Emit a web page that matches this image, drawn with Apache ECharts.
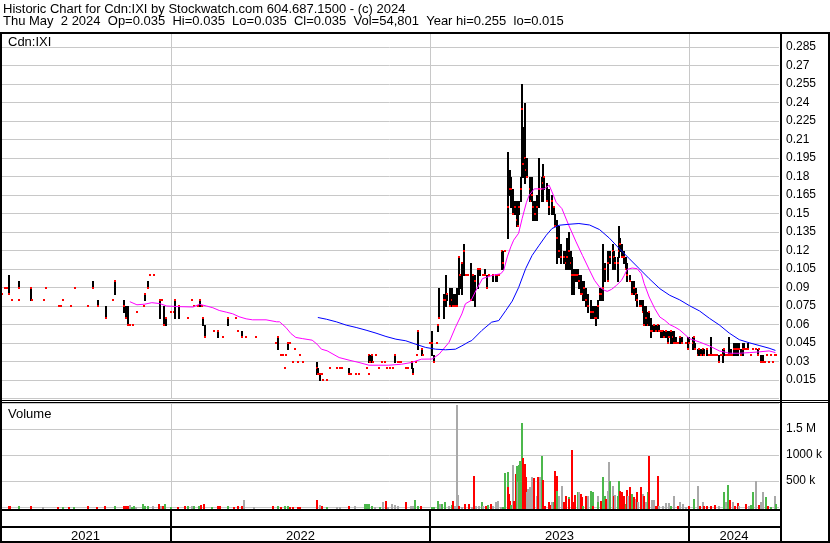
<!DOCTYPE html>
<html><head><meta charset="utf-8">
<script src="https://cdn.jsdelivr.net/npm/echarts@6.0.0/dist/echarts.min.js"></script>
<style>html,body{margin:0;padding:0;background:#fff;}#c{width:830px;height:543px;}</style>
</head><body><div id="c"></div>
<script>
// ---------------- DATA ----------------
const titleLine1 = 'Historic Chart for Cdn:IXI by Stockwatch.com 604.687.1500 - (c) 2024';
const titleLine2 = 'Thu May  2 2024  Op=0.035  Hi=0.035  Lo=0.035  Cl=0.035  Vol=54,801  Year hi=0.255  lo=0.015';
const symbolLabel = 'Cdn:IXI';
const volumeLabel = 'Volume';
const yearLabels = ['2021', '2022', '2023', '2024'];
const yearStarts = ['2021-05-05', '2022-01-01', '2023-01-01', '2024-01-01'];
const yearEnds = ['2022-01-01', '2023-01-01', '2024-01-01', '2024-05-07'];
const volumeTickLabels = ['500 k', '1000 k', '1.5 M'];

// [date, high, low, close]
const bars2021 = [
['2021-05-07',0.085,0.085,0.085],['2021-05-10',0.09,0.09,0.09],['2021-05-13',0.09,0.09,0.09],
['2021-05-16',0.10,0.085,0.085],['2021-05-20',0.08,0.08,0.08],['2021-05-30',0.08,0.08,0.08],
['2021-05-31',0.095,0.09,0.09],['2021-06-16',0.09,0.08,0.09],['2021-06-18',0.08,0.08,0.08],
['2021-07-05',0.08,0.08,0.08],['2021-07-08',0.09,0.09,0.09],['2021-07-26',0.075,0.075,0.075],
['2021-07-29',0.075,0.075,0.075],['2021-08-01',0.08,0.08,0.08],['2021-08-12',0.075,0.075,0.075],
['2021-08-18',0.09,0.09,0.09],['2021-09-05',0.075,0.075,0.075],['2021-09-11',0.095,0.09,0.09],
['2021-09-19',0.08,0.075,0.075],['2021-09-30',0.075,0.065,0.065],['2021-10-10',0.08,0.08,0.08],
['2021-10-13',0.095,0.085,0.095],['2021-10-26',0.08,0.07,0.075],['2021-10-28',0.075,0.065,0.065],
['2021-10-31',0.075,0.06,0.06],['2021-11-03',0.06,0.06,0.06],['2021-11-07',0.06,0.06,0.06],
['2021-11-13',0.07,0.07,0.07],['2021-11-23',0.075,0.075,0.075],['2021-11-24',0.085,0.08,0.085],
['2021-11-28',0.095,0.09,0.09],['2021-12-01',0.10,0.10,0.10],['2021-12-07',0.10,0.10,0.10],
['2021-12-15',0.08,0.065,0.08],['2021-12-18',0.08,0.08,0.08],['2021-12-21',0.075,0.06,0.06],
['2021-12-24',0.065,0.06,0.065],['2021-12-30',0.07,0.07,0.07]
];
const bars2022 = [
['2022-01-04',0.07,0.07,0.07],['2022-01-05',0.08,0.065,0.08],['2022-01-11',0.075,0.065,0.075],
['2022-01-23',0.065,0.065,0.065],['2022-01-29',0.08,0.08,0.08],['2022-02-01',0.075,0.075,0.075],
['2022-02-07',0.075,0.075,0.075],['2022-02-09',0.08,0.075,0.08],['2022-02-12',0.075,0.075,0.075],
['2022-02-14',0.065,0.06,0.065],['2022-02-16',0.06,0.05,0.05],['2022-03-01',0.055,0.055,0.055],
['2022-03-07',0.055,0.05,0.055],['2022-03-14',0.05,0.05,0.05],['2022-03-21',0.065,0.06,0.065],
['2022-04-01',0.065,0.065,0.065],['2022-04-04',0.055,0.055,0.055],['2022-04-09',0.055,0.05,0.05],
['2022-04-15',0.05,0.05,0.05],['2022-04-29',0.05,0.05,0.05],['2022-05-27',0.045,0.045,0.045],
['2022-05-30',0.05,0.04,0.05],['2022-06-04',0.035,0.035,0.035],['2022-06-07',0.035,0.035,0.035],
['2022-06-10',0.025,0.025,0.025],['2022-06-11',0.035,0.035,0.035],['2022-06-13',0.045,0.04,0.045],
['2022-06-14',0.045,0.045,0.045],['2022-06-17',0.045,0.045,0.045],['2022-06-20',0.03,0.03,0.03],
['2022-06-23',0.04,0.04,0.04],['2022-06-27',0.03,0.03,0.03],['2022-07-01',0.035,0.035,0.035],
['2022-07-05',0.03,0.03,0.03],['2022-07-25',0.03,0.02,0.025],['2022-07-26',0.025,0.02,0.02],
['2022-07-28',0.02,0.015,0.02],['2022-07-31',0.02,0.02,0.02],['2022-08-02',0.015,0.015,0.015],
['2022-08-08',0.015,0.015,0.015],['2022-08-12',0.025,0.025,0.025],['2022-08-22',0.025,0.025,0.025],
['2022-08-26',0.025,0.025,0.025],['2022-08-29',0.025,0.025,0.025],['2022-09-07',0.02,0.02,0.02],
['2022-09-08',0.025,0.02,0.02],['2022-09-11',0.02,0.02,0.02],['2022-09-18',0.02,0.02,0.02],
['2022-09-21',0.02,0.02,0.02],['2022-10-03',0.025,0.025,0.025],['2022-10-05',0.02,0.02,0.02],
['2022-10-06',0.035,0.03,0.035],['2022-10-07',0.035,0.03,0.03],['2022-10-10',0.035,0.03,0.035],
['2022-10-12',0.03,0.03,0.03],['2022-10-16',0.035,0.035,0.035],['2022-10-20',0.025,0.025,0.025],
['2022-10-24',0.03,0.03,0.03],['2022-10-28',0.03,0.03,0.03],['2022-10-31',0.025,0.025,0.025],
['2022-11-04',0.025,0.025,0.025],['2022-11-09',0.025,0.025,0.025],['2022-11-11',0.035,0.03,0.035],
['2022-11-16',0.03,0.03,0.03],['2022-11-18',0.03,0.03,0.03],['2022-11-20',0.03,0.03,0.03],
['2022-11-27',0.025,0.025,0.025],['2022-11-30',0.025,0.025,0.025],['2022-12-05',0.03,0.025,0.03],
['2022-12-07',0.025,0.02,0.02],['2022-12-11',0.03,0.03,0.03],['2022-12-12',0.035,0.035,0.035],
['2022-12-14',0.055,0.04,0.055],['2022-12-19',0.04,0.035,0.04],['2022-12-21',0.035,0.035,0.035],
['2022-12-30',0.045,0.045,0.045]
];
const bars2023a = [
['2023-01-02',0.055,0.035,0.045],['2023-01-05',0.035,0.03,0.03],['2023-01-09',0.045,0.045,0.045],
['2023-01-11',0.06,0.055,0.06],['2023-01-12',0.09,0.065,0.065],['2023-01-19',0.085,0.065,0.08],
['2023-01-22',0.10,0.075,0.08],['2023-01-24',0.085,0.08,0.085],['2023-01-28',0.09,0.075,0.075],
['2023-01-31',0.09,0.075,0.08],['2023-02-01',0.085,0.075,0.075],['2023-02-04',0.085,0.075,0.075],
['2023-02-07',0.09,0.075,0.075],['2023-02-10',0.115,0.085,0.115],['2023-02-11',0.10,0.09,0.10],
['2023-02-14',0.11,0.085,0.11],['2023-02-17',0.125,0.10,0.12],['2023-02-20',0.10,0.10,0.10],
['2023-02-22',0.10,0.10,0.10],['2023-02-27',0.11,0.08,0.08],['2023-03-01',0.10,0.08,0.10],
['2023-03-04',0.10,0.075,0.095],['2023-03-09',0.105,0.09,0.105],['2023-03-11',0.105,0.10,0.105],
['2023-03-16',0.10,0.10,0.10],['2023-03-18',0.105,0.10,0.10],['2023-03-21',0.10,0.09,0.09],
['2023-03-24',0.10,0.10,0.10],['2023-03-30',0.10,0.095,0.10],['2023-04-02',0.10,0.095,0.10],
['2023-04-04',0.10,0.095,0.10],['2023-04-07',0.10,0.10,0.10],['2023-04-11',0.12,0.105,0.12],
['2023-04-13',0.12,0.105,0.11],['2023-04-16',0.12,0.12,0.12],['2023-04-19',0.20,0.13,0.155],
['2023-04-20',0.18,0.155,0.155],['2023-04-23',0.185,0.165,0.17],['2023-04-24',0.18,0.155,0.17],
['2023-04-27',0.17,0.15,0.15],['2023-04-30',0.16,0.15,0.155],['2023-05-03',0.16,0.14,0.145],
['2023-05-04',0.16,0.14,0.14],['2023-05-05',0.16,0.15,0.155],['2023-05-08',0.18,0.16,0.17],
['2023-05-10',0.255,0.18,0.235],['2023-05-11',0.22,0.18,0.19],['2023-05-13',0.195,0.175,0.18],
['2023-05-14',0.24,0.18,0.195],['2023-05-15',0.195,0.18,0.185],['2023-05-17',0.195,0.18,0.18],
['2023-05-20',0.18,0.17,0.17],['2023-05-21',0.17,0.16,0.17],['2023-05-22',0.18,0.16,0.16],
['2023-05-24',0.18,0.16,0.165],['2023-05-25',0.16,0.145,0.155],['2023-05-28',0.16,0.145,0.15],
['2023-05-30',0.165,0.145,0.15],['2023-05-31',0.16,0.15,0.155],['2023-06-03',0.195,0.155,0.17],
['2023-06-06',0.18,0.16,0.17],['2023-06-08',0.19,0.16,0.175],['2023-06-10',0.18,0.17,0.18],
['2023-06-13',0.175,0.16,0.165],['2023-06-14',0.175,0.16,0.16],['2023-06-16',0.17,0.155,0.16],
['2023-06-17',0.17,0.15,0.155],['2023-06-20',0.16,0.15,0.15],['2023-06-21',0.165,0.15,0.16],
['2023-06-23',0.155,0.15,0.155],['2023-06-25',0.15,0.14,0.14],['2023-06-27',0.145,0.11,0.125],
['2023-06-28',0.14,0.125,0.13],['2023-06-30',0.13,0.115,0.12]
];
const bars2023b = [
['2023-07-01',0.14,0.12,0.12],['2023-07-02',0.125,0.115,0.12],['2023-07-04',0.125,0.11,0.115],
['2023-07-07',0.12,0.11,0.115],['2023-07-10',0.12,0.11,0.11],['2023-07-11',0.12,0.105,0.11],
['2023-07-12',0.13,0.105,0.115],['2023-07-14',0.12,0.105,0.11],['2023-07-15',0.135,0.105,0.12],
['2023-07-17',0.12,0.105,0.11],['2023-07-19',0.115,0.085,0.10],['2023-07-21',0.105,0.085,0.095],
['2023-07-22',0.105,0.095,0.10],['2023-07-25',0.105,0.095,0.10],['2023-07-27',0.105,0.095,0.10],
['2023-07-29',0.10,0.09,0.095],['2023-07-31',0.10,0.085,0.09],['2023-08-01',0.095,0.085,0.085],
['2023-08-04',0.095,0.08,0.085],['2023-08-05',0.095,0.08,0.09],['2023-08-07',0.09,0.075,0.08],
['2023-08-10',0.085,0.075,0.075],['2023-08-11',0.085,0.07,0.075],['2023-08-14',0.08,0.065,0.07],
['2023-08-15',0.075,0.065,0.07],['2023-08-17',0.075,0.065,0.07],['2023-08-20',0.075,0.065,0.065],
['2023-08-21',0.075,0.06,0.065],['2023-08-24',0.08,0.065,0.075],['2023-08-27',0.09,0.08,0.085],
['2023-08-28',0.09,0.08,0.085],['2023-08-31',0.09,0.08,0.09],['2023-09-01',0.125,0.08,0.09],
['2023-09-04',0.11,0.095,0.105],['2023-09-07',0.105,0.095,0.095],['2023-09-08',0.12,0.10,0.11],
['2023-09-11',0.12,0.11,0.115],['2023-09-14',0.125,0.105,0.12],['2023-09-16',0.12,0.11,0.115],
['2023-09-18',0.115,0.105,0.11],['2023-09-21',0.115,0.095,0.11],['2023-09-23',0.14,0.115,0.12],
['2023-09-25',0.13,0.12,0.125],['2023-09-28',0.125,0.115,0.115],['2023-09-30',0.12,0.11,0.115],
['2023-10-03',0.115,0.105,0.105],['2023-10-04',0.11,0.095,0.095],['2023-10-05',0.105,0.095,0.10],
['2023-10-08',0.10,0.095,0.095],['2023-10-12',0.095,0.085,0.085],['2023-10-14',0.095,0.085,0.09],
['2023-10-17',0.09,0.08,0.085],['2023-10-19',0.085,0.075,0.08],['2023-10-22',0.08,0.075,0.075],
['2023-10-24',0.08,0.075,0.075],['2023-10-27',0.08,0.07,0.07],['2023-10-28',0.075,0.06,0.06],
['2023-10-31',0.075,0.06,0.065],['2023-11-03',0.07,0.06,0.06],['2023-11-04',0.07,0.06,0.07],
['2023-11-07',0.065,0.05,0.055],['2023-11-10',0.06,0.055,0.055],['2023-11-11',0.06,0.055,0.06],
['2023-11-14',0.06,0.055,0.055],['2023-11-17',0.06,0.055,0.06],['2023-11-18',0.06,0.055,0.055],
['2023-11-21',0.055,0.05,0.055],['2023-11-24',0.055,0.05,0.055],['2023-11-25',0.055,0.05,0.05],
['2023-11-28',0.055,0.05,0.055],['2023-12-01',0.055,0.045,0.045],['2023-12-02',0.055,0.05,0.05],
['2023-12-05',0.055,0.045,0.055],['2023-12-08',0.055,0.045,0.05],['2023-12-09',0.055,0.045,0.045],
['2023-12-12',0.05,0.045,0.045],['2023-12-15',0.045,0.045,0.045],['2023-12-18',0.05,0.045,0.05],
['2023-12-21',0.05,0.045,0.045],['2023-12-26',0.045,0.045,0.045],['2023-12-29',0.05,0.04,0.04],
['2023-12-31',0.05,0.045,0.045]
];
const bars2024 = [
['2024-01-05',0.05,0.04,0.045],['2024-01-07',0.05,0.045,0.05],['2024-01-08',0.045,0.04,0.04],
['2024-01-12',0.04,0.035,0.035],['2024-01-14',0.04,0.035,0.04],['2024-01-17',0.04,0.035,0.035],
['2024-01-19',0.04,0.035,0.04],['2024-01-21',0.04,0.035,0.035],['2024-01-25',0.04,0.035,0.04],
['2024-01-28',0.035,0.035,0.035],['2024-01-31',0.05,0.035,0.035],['2024-02-02',0.035,0.035,0.035],
['2024-02-05',0.035,0.035,0.035],['2024-02-08',0.035,0.035,0.035],['2024-02-11',0.035,0.03,0.03],
['2024-02-14',0.035,0.035,0.035],['2024-02-17',0.04,0.03,0.035],['2024-02-18',0.04,0.035,0.04],
['2024-02-21',0.035,0.035,0.035],['2024-02-24',0.035,0.035,0.035],['2024-02-25',0.05,0.035,0.035],
['2024-02-28',0.04,0.035,0.035],['2024-03-02',0.035,0.035,0.035],['2024-03-03',0.045,0.035,0.04],
['2024-03-06',0.045,0.035,0.04],['2024-03-09',0.045,0.035,0.04],['2024-03-10',0.045,0.04,0.04],
['2024-03-13',0.04,0.035,0.035],['2024-03-16',0.045,0.035,0.04],['2024-03-17',0.045,0.04,0.04],
['2024-03-20',0.04,0.04,0.04],['2024-03-23',0.045,0.04,0.04],['2024-03-27',0.035,0.035,0.035],
['2024-03-30',0.04,0.04,0.04],['2024-04-03',0.04,0.04,0.04],['2024-04-06',0.04,0.035,0.035],
['2024-04-07',0.04,0.04,0.04],['2024-04-10',0.035,0.03,0.03],['2024-04-13',0.035,0.03,0.03],
['2024-04-16',0.03,0.03,0.03],['2024-04-19',0.035,0.035,0.035],['2024-04-21',0.03,0.03,0.03],
['2024-04-24',0.035,0.035,0.035],['2024-04-27',0.03,0.03,0.03],['2024-04-30',0.035,0.035,0.035],
['2024-05-02',0.035,0.035,0.035]
];

// moving averages [date, value]
const maFast = [
['2021-11-04',0.0785],['2021-11-14',0.0760],['2021-11-25',0.0765],['2021-12-05',0.0777],['2021-12-16',0.0770],['2021-12-26',0.0750],
['2022-01-13',0.0745],['2022-02-01',0.0742],['2022-02-10',0.0764],['2022-02-20',0.0750],['2022-03-01',0.0736],['2022-03-10',0.0714],
['2022-03-20',0.0700],['2022-03-29',0.0687],['2022-04-07',0.0663],['2022-04-17',0.0646],['2022-04-26',0.0638],['2022-05-15',0.0638],
['2022-05-30',0.0622],['2022-06-03',0.0622],['2022-06-12',0.0576],['2022-06-19',0.0527],['2022-06-26',0.0495],['2022-07-05',0.0486],
['2022-07-19',0.0473],['2022-07-26',0.0440],['2022-08-01',0.0400],['2022-08-09',0.0387],['2022-08-26',0.0332],['2022-09-09',0.0311],
['2022-09-23',0.0292],['2022-10-07',0.0270],['2022-10-21',0.0270],['2022-11-04',0.0270],['2022-11-22',0.0278],['2022-12-06',0.0292],
['2022-12-20',0.0319],
['2023-01-04',0.0320],['2023-01-14',0.0360],['2023-01-28',0.0456],['2023-02-06',0.0578],['2023-02-15',0.0686],['2023-02-20',0.0768],
['2023-02-28',0.0795],['2023-03-07',0.0877],['2023-03-16',0.0972],['2023-03-30',0.0999],['2023-04-11',0.1012],['2023-04-15',0.1040],
['2023-04-20',0.1148],['2023-04-25',0.1230],['2023-04-29',0.1284],['2023-05-06',0.1340],['2023-05-11',0.1460],['2023-05-17',0.1590],
['2023-05-21',0.1650],['2023-05-28',0.1700],['2023-06-04',0.1700],['2023-06-11',0.1700],['2023-06-18',0.1730],['2023-06-22',0.1676],
['2023-06-28',0.1590],['2023-07-06',0.1540],['2023-07-16',0.1400],['2023-07-26',0.1270],['2023-08-04',0.1160],['2023-08-14',0.1040],
['2023-08-21',0.0958],['2023-08-28',0.0904],['2023-09-04',0.0877],['2023-09-08',0.0869],['2023-09-14',0.0885],['2023-09-21',0.0918],
['2023-09-28',0.0958],['2023-10-02',0.0999],['2023-10-06',0.1047],['2023-10-13',0.1058],['2023-10-20',0.1053],['2023-10-26',0.1012],
['2023-10-30',0.0931],['2023-11-06',0.0823],['2023-11-14',0.0728],['2023-11-21',0.0661],['2023-11-28',0.0634],['2023-12-05',0.0599],
['2023-12-12',0.0580],['2023-12-19',0.0556],
['2024-01-02',0.0485],['2024-01-16',0.0458],['2024-01-30',0.0426],['2024-02-13',0.0386],['2024-02-27',0.0367],['2024-03-12',0.0367],
['2024-03-26',0.0372],['2024-04-09',0.0378],['2024-04-23',0.0386],['2024-05-02',0.0372]
];
const maSlow = [
['2022-07-27',0.0657],['2022-08-08',0.0643],['2022-08-22',0.0622],['2022-09-05',0.0595],['2022-09-19',0.0576],['2022-10-03',0.0554],
['2022-10-17',0.0530],['2022-10-31',0.0503],['2022-11-14',0.0481],['2022-11-28',0.0468],['2022-12-12',0.0440],['2022-12-26',0.0414],
['2023-01-09',0.0400],['2023-01-23',0.0395],['2023-02-06',0.0400],['2023-02-15',0.0427],['2023-02-25',0.0460],['2023-03-01',0.0470],
['2023-03-15',0.0551],['2023-03-29',0.0619],['2023-04-08',0.0632],['2023-04-18',0.0714],['2023-04-27',0.0790],['2023-05-06',0.0900],
['2023-05-16',0.1054],['2023-05-25',0.1160],['2023-06-04',0.1243],['2023-06-14',0.1324],['2023-06-22',0.1378],['2023-07-02',0.1405],
['2023-07-16',0.1413],['2023-07-30',0.1419],['2023-08-14',0.1407],['2023-08-28',0.1370],['2023-09-11',0.1300],['2023-09-25',0.1215],
['2023-10-09',0.1134],['2023-10-23',0.1053],['2023-11-06',0.0972],['2023-11-21',0.0891],['2023-12-05',0.0837],['2023-12-19',0.0800],
['2024-01-02',0.0752],['2024-01-16',0.0710],['2024-01-30',0.0650],['2024-02-13',0.0596],['2024-02-27',0.0530],['2024-03-12',0.0477],
['2024-03-26',0.0452],['2024-04-09',0.0430],['2024-04-23',0.0408],['2024-05-02',0.0390]
];

// volume [date, thousands of shares, direction: 1 up, -1 down, 0 unchanged]
const volume2021 = [
['2021-05-16',25,-1],['2021-05-17',25,-1],['2021-05-31',10,1],['2021-06-16',25,-1],['2021-07-03',8,0],['2021-07-25',8,-1],
['2021-07-31',8,1],['2021-08-09',8,-1],['2021-08-16',8,1],['2021-09-04',15,-1],['2021-09-18',8,-1],['2021-09-29',15,-1],
['2021-10-12',25,1],['2021-10-26',20,-1],['2021-10-28',15,-1],['2021-10-31',15,-1],['2021-11-03',45,0],['2021-11-05',8,1],
['2021-11-08',25,1],['2021-11-11',8,0],['2021-11-21',58,1],['2021-11-24',25,1],['2021-11-28',12,1],['2021-12-05',15,0],
['2021-12-13',58,-1],['2021-12-17',25,0],['2021-12-19',15,-1],['2021-12-22',58,1],['2021-12-30',8,1]
];
const volume2022 = [
['2022-01-09',8,-1],['2022-01-20',12,-1],['2022-01-24',15,1],['2022-01-29',20,0],['2022-02-01',10,1],['2022-02-08',15,1],
['2022-02-11',35,-1],['2022-02-15',58,-1],['2022-02-27',8,1],['2022-03-07',25,-1],['2022-03-10',10,-1],['2022-03-21',12,1],
['2022-03-29',8,-1],['2022-04-04',10,-1],['2022-04-09',25,-1],['2022-04-13',135,0],['2022-04-26',8,0],['2022-05-24',15,-1],
['2022-05-30',10,1],['2022-06-03',8,-1],['2022-06-10',10,1],['2022-06-13',10,1],['2022-06-17',8,-1],['2022-06-21',8,-1],
['2022-06-27',8,-1],['2022-07-01',8,-1],['2022-07-25',135,-1],['2022-07-28',30,0],['2022-08-01',15,-1],['2022-08-08',8,1],
['2022-08-22',8,0],['2022-08-26',8,0],['2022-09-07',10,-1],['2022-09-16',12,0],['2022-09-30',58,1],['2022-10-03',58,1],
['2022-10-06',58,1],['2022-10-10',12,1],['2022-10-14',8,0],['2022-10-21',8,1],['2022-10-25',103,0],['2022-10-29',122,-1],
['2022-11-01',8,0],['2022-11-07',58,0],['2022-11-11',38,0],['2022-11-16',15,0],['2022-11-27',103,-1],['2022-12-04',25,0],
['2022-12-07',15,0],['2022-12-10',141,1],['2022-12-14',10,1],['2022-12-18',15,-1]
];
const volume2023 = [
['2023-01-02',5,1],['2023-01-05',5,1],['2023-01-11',120,1],['2023-01-14',55,0],['2023-01-17',55,1],['2023-01-21',100,1],
['2023-01-26',25,0],['2023-01-31',40,1],['2023-02-01',120,-1],['2023-02-04',25,0],['2023-02-07',1960,0],['2023-02-08',237,0],
['2023-02-10',25,-1],['2023-02-14',8,0],['2023-02-18',55,-1],['2023-02-23',58,-1],['2023-02-28',8,0],['2023-03-02',603,-1],
['2023-03-05',25,0],['2023-03-10',15,0],['2023-03-14',90,1],['2023-03-16',25,0],['2023-03-20',15,-1],['2023-03-23',40,1],
['2023-03-27',58,-1],['2023-03-30',25,0],['2023-04-02',100,0],['2023-04-06',120,0],['2023-04-10',8,0],['2023-04-13',8,1],
['2023-04-16',654,1],['2023-04-19',680,1],['2023-04-20',378,-1],['2023-04-21',250,-1],['2023-04-23',120,-1],['2023-04-24',40,1],
['2023-04-27',808,0],['2023-04-28',120,-1],['2023-05-01',635,-1],['2023-05-03',795,1],['2023-05-04',487,0],['2023-05-05',808,1],
['2023-05-06',891,1],['2023-05-10',1615,1],['2023-05-11',942,-1],['2023-05-13',827,-1],['2023-05-15',583,-1],['2023-05-17',280,0],
['2023-05-18',350,0],['2023-05-21',378,0],['2023-05-24',570,0],['2023-05-26',551,-1],['2023-05-30',220,0],['2023-06-01',583,-1],
['2023-06-04',570,0],['2023-06-07',987,1],['2023-06-08',526,-1],['2023-06-11',25,-1],['2023-06-16',90,-1],['2023-06-18',40,-1],
['2023-06-21',100,0],['2023-06-23',100,1],['2023-06-25',699,-1],['2023-06-27',603,-1],['2023-06-28',314,1],['2023-07-01',218,0],
['2023-07-05',410,0],['2023-07-07',100,-1],['2023-07-11',218,-1],['2023-07-14',186,1],['2023-07-15',150,-1],['2023-07-19',1103,-1],
['2023-07-21',100,-1],['2023-07-23',231,-1],['2023-07-27',282,1],['2023-07-28',282,0],['2023-07-31',250,-1],['2023-08-02',186,-1],
['2023-08-04',25,1],['2023-08-07',218,-1],['2023-08-10',218,0],['2023-08-14',314,1],['2023-08-17',282,1],['2023-08-18',25,-1],
['2023-08-24',218,0],['2023-08-25',90,1],['2023-08-28',120,-1],['2023-09-01',583,1],['2023-09-04',218,1],['2023-09-05',154,-1],
['2023-09-07',314,0],['2023-09-09',859,0],['2023-09-11',506,1],['2023-09-14',410,0],['2023-09-16',218,-1],['2023-09-18',231,0],
['2023-09-21',218,1],['2023-09-23',506,1],['2023-09-25',314,-1],['2023-09-28',295,-1],['2023-09-30',218,-1],['2023-10-03',55,1],
['2023-10-05',327,-1],['2023-10-06',218,0],['2023-10-09',378,-1],['2023-10-12',250,1],['2023-10-14',186,-1],['2023-10-17',154,0],
['2023-10-19',282,-1],['2023-10-20',90,0],['2023-10-24',378,-1],['2023-10-27',250,0],['2023-10-28',218,-1],['2023-10-31',100,0],
['2023-11-03',282,1],['2023-11-04',487,-1],['2023-11-05',987,-1],['2023-11-08',141,0],['2023-11-11',141,0],['2023-11-14',25,-1],
['2023-11-17',603,-1],['2023-11-18',25,0],['2023-11-24',25,0],['2023-11-28',77,0],['2023-12-02',77,0],['2023-12-05',25,1],
['2023-12-09',205,0],['2023-12-15',25,-1],['2023-12-18',103,0],['2023-12-22',58,0],['2023-12-26',8,0],['2023-12-31',25,-1]
];
const volume2024 = [
['2024-01-07',154,1],['2024-01-12',410,0],['2024-01-15',25,-1],['2024-01-19',90,0],['2024-01-21',25,-1],['2024-01-25',25,-1],
['2024-01-31',25,-1],['2024-02-06',38,-1],['2024-02-11',25,0],['2024-02-18',282,1],['2024-02-21',103,0],['2024-02-24',423,1],
['2024-02-26',141,-1],['2024-03-02',90,0],['2024-03-04',25,-1],['2024-03-09',77,-1],['2024-03-10',25,0],['2024-03-20',58,-1],
['2024-03-24',25,0],['2024-03-27',38,1],['2024-03-30',282,1],['2024-04-03',500,0],['2024-04-07',38,-1],['2024-04-10',103,0],
['2024-04-13',282,0],['2024-04-17',186,1],['2024-04-20',15,-1],['2024-04-24',8,1],['2024-04-30',218,0],['2024-05-02',55,1]
];

// ---------------- CHART ----------------
const FONT = '"Liberation Sans", Arial, sans-serif';
const X_MIN = yearStarts[0];
const X_MAX = yearEnds[yearEnds.length - 1];
const priceBars = [].concat(bars2021, bars2022, bars2023a, bars2023b, bars2024);
const volumeRows = [].concat(volume2021, volume2022, volume2023, volume2024).map(r => [r[0], r[1] * 1000, r[2]]);
const yearRows = yearLabels.map((l, i) => [yearStarts[i], yearEnds[i], i]);
const boundaryRows = yearStarts.slice(1).map(d => [d, 0]);
const volColors = { '1': '#4cb84c', '-1': '#ff0000', '0': '#a9a9a9' };

const chart = echarts.init(document.getElementById('c'), null, { renderer: 'canvas' });

function yearGridLine(params, api) {
  const cs = params.coordSys;
  const x = Math.round(api.coord([api.value(0), 0])[0]) + 0.5;
  return { type: 'line', shape: { x1: x, y1: cs.y, x2: x, y2: cs.y + cs.height }, style: { stroke: '#c8c8c8', lineWidth: 1 } };
}
function label(text, x, y) {
  return { type: 'text', x: x, y: y, z: 100, silent: true,
    style: { text: text, font: '13px ' + FONT, fill: '#000', verticalAlign: 'middle', align: 'left' } };
}

const option = {
  animation: false,
  backgroundColor: '#ffffff',
  textStyle: { fontFamily: FONT },
  grid: [
    { left: 0, right: 51, top: 33, height: 365.5 },
    { left: 0, right: 51, top: 403, height: 104 },
    { left: 0, right: 51, top: 511, height: 31 }
  ],
  xAxis: [0, 1, 2].map(i => ({ type: 'time', gridIndex: i, min: X_MIN, max: X_MAX, show: false })),
  yAxis: [
    { type: 'value', gridIndex: 0, position: 'right', min: 0, max: 0.2964, interval: 0.015,
      axisLine: { show: false }, axisTick: { show: false },
      splitLine: { show: true, lineStyle: { color: '#c8c8c8', width: 1 } },
      axisLabel: { margin: 7, color: '#000', fontSize: 12, fontFamily: FONT, showMinLabel: false, showMaxLabel: false,
        formatter: v => String(+v.toFixed(3)) } },
    { type: 'value', gridIndex: 1, position: 'right', min: 0, max: 2000000, interval: 500000,
      axisLine: { show: false }, axisTick: { show: false },
      splitLine: { show: true, lineStyle: { color: '#c8c8c8', width: 1 } },
      axisLabel: { margin: 7, color: '#000', fontSize: 12, fontFamily: FONT, showMinLabel: false, showMaxLabel: false,
        formatter: v => volumeTickLabels[Math.round(v / 500000) - 1] || '' } },
    { type: 'value', gridIndex: 2, min: 0, max: 1, show: false }
  ],
  series: [
    { type: 'custom', xAxisIndex: 0, yAxisIndex: 0, data: boundaryRows, encode: { x: 0, y: 1 }, z: 1, silent: true, renderItem: yearGridLine },
    { type: 'custom', xAxisIndex: 1, yAxisIndex: 1, data: boundaryRows, encode: { x: 0, y: 1 }, z: 1, silent: true, renderItem: yearGridLine },
    {
      type: 'custom', name: 'price', xAxisIndex: 0, yAxisIndex: 0, data: priceBars, z: 3, silent: true, clip: true,
      encode: { x: 0, y: [1, 2, 3] },
      renderItem(params, api) {
        const t = api.value(0), hi = api.value(1), lo = api.value(2), cl = api.value(3);
        const pHi = api.coord([t, hi]), pLo = api.coord([t, lo]), pCl = api.coord([t, cl]);
        const x = Math.round(pHi[0]);
        const children = [];
        if (hi > lo) children.push({ type: 'rect', shape: { x: x, y: Math.round(pHi[1]), width: 2, height: Math.round(pLo[1]) - Math.round(pHi[1]) + 1 }, style: { fill: '#000' } });
        children.push({ type: 'rect', shape: { x: x, y: Math.round(pCl[1]) - 1, width: 2, height: 2 }, style: { fill: '#ff0000' } });
        return { type: 'group', children };
      }
    },
    { type: 'line', name: 'maFast', xAxisIndex: 0, yAxisIndex: 0, data: maFast, showSymbol: false, symbol: 'none', z: 5, silent: true,
      lineStyle: { color: '#ff00ff', width: 1 } },
    { type: 'line', name: 'maSlow', xAxisIndex: 0, yAxisIndex: 0, data: maSlow, showSymbol: false, symbol: 'none', z: 5, silent: true,
      lineStyle: { color: '#0000ff', width: 1 } },
    {
      type: 'custom', name: 'volume', xAxisIndex: 1, yAxisIndex: 1, data: volumeRows, z: 3, silent: true, clip: false,
      encode: { x: 0, y: 1 },
      renderItem(params, api) {
        const t = api.value(0), v = api.value(1), d = api.value(2);
        const top = api.coord([t, v]), base = api.coord([t, 0]);
        const x = Math.round(top[0]);
        const y = Math.round(top[1]);
        return { type: 'rect', shape: { x: x, y: y, width: 2, height: Math.round(base[1]) + 2 - y }, style: { fill: volColors[String(d)] } };
      }
    },
    {
      type: 'custom', name: 'years', xAxisIndex: 2, yAxisIndex: 2, data: yearRows, z: 3, silent: true, clip: false,
      dimensions: [{ name: 'start', type: 'time' }, { name: 'end', type: 'time' }, { name: 'idx', type: 'number' }],
      encode: { x: [0, 1] },
      renderItem(params, api) {
        const cs = params.coordSys;
        const x0 = api.coord([api.value(0), 0])[0];
        const x1 = api.coord([api.value(1), 0])[0];
        const idx = api.value(2);
        const children = [{ type: 'text', style: { text: yearLabels[idx], x: (x0 + x1) / 2, y: cs.y + cs.height - 6,
          align: 'center', verticalAlign: 'middle', font: '13px ' + FONT, fill: '#000' } }];
        if (idx > 0) children.push({ type: 'rect', shape: { x: Math.round(x0) - 1, y: cs.y - 2, width: 2, height: cs.height + 2 }, style: { fill: '#000' } });
        return { type: 'group', children };
      }
    }
  ],
  graphic: [
    label(titleLine1, 3, 9),
    label(titleLine2, 3, 21.5),
    label(symbolLabel, 8, 42),
    label(volumeLabel, 8, 414),
    // frame lines
    { type: 'rect', z: 100, silent: true, shape: { x: 0, y: 32, width: 830, height: 2 }, style: { fill: '#000' } },
    { type: 'rect', z: 100, silent: true, shape: { x: 0, y: 32, width: 2, height: 511 }, style: { fill: '#000' } },
    { type: 'rect', z: 100, silent: true, shape: { x: 780, y: 32, width: 2, height: 511 }, style: { fill: '#000' } },
    { type: 'rect', z: 100, silent: true, shape: { x: 828, y: 32, width: 2, height: 511 }, style: { fill: '#000' } },
    { type: 'rect', z: 100, silent: true, shape: { x: 0, y: 400, width: 830, height: 1 }, style: { fill: '#000' } },
    { type: 'rect', z: 100, silent: true, shape: { x: 0, y: 402, width: 830, height: 1 }, style: { fill: '#000' } },
    { type: 'rect', z: 100, silent: true, shape: { x: 0, y: 509, width: 782, height: 2 }, style: { fill: '#000' } },
    { type: 'rect', z: 100, silent: true, shape: { x: 0, y: 526, width: 782, height: 2 }, style: { fill: '#000' } },
    { type: 'rect', z: 100, silent: true, shape: { x: 0, y: 541, width: 830, height: 2 }, style: { fill: '#000' } }
  ]
};
chart.setOption(option);
</script>
</body></html>
